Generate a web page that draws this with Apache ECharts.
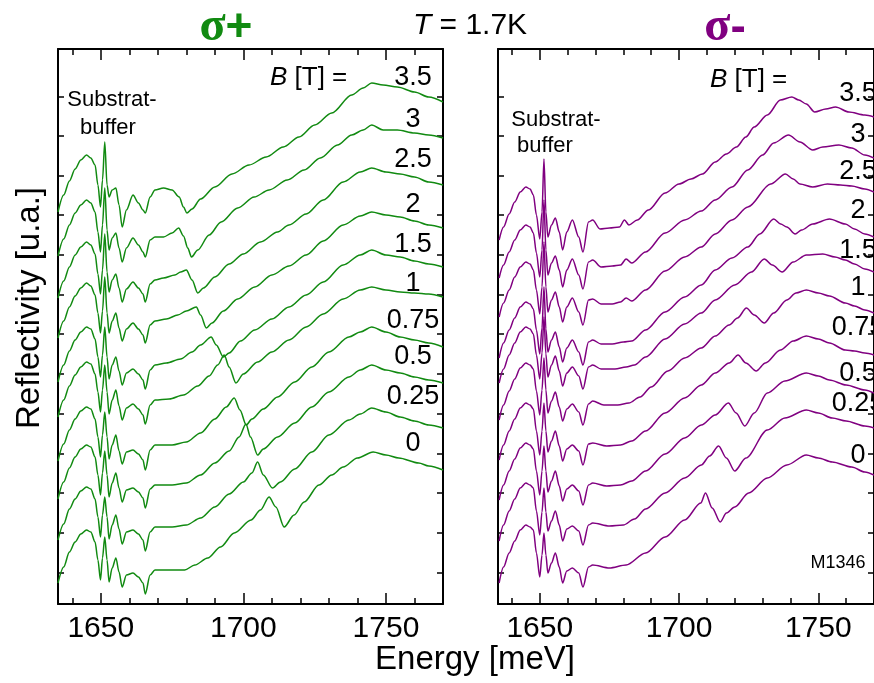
<!DOCTYPE html>
<html><head><meta charset="utf-8">
<script src="https://cdn.jsdelivr.net/npm/echarts@6/dist/echarts.min.js"></script>
<style>html,body{margin:0;padding:0;background:#fff}#c{width:874px;height:683px}</style>
</head><body><div id="c"></div>
<script>
// ---------- DATA ----------
const FIELDS_T = ['3.5','3','2.5','2','1.5','1','0.75','0.5','0.25','0'];
const X_TICKS_MAJOR = [1650, 1700, 1750];
const X_TICKS_MINOR = [1640,1650,1660,1670,1680,1690,1700,1710,1720,1730,1740,1750,1760,1770];
const Y_TICKS = [31,71,111,150,190,230,270,309,349,389,428,468,507];

// vertical offsets of the stacked spectra (a.u.)
const OFFSET_PLUS  = [449,404,362,321,277,242,197,159,117,74];
const OFFSET_MINUS = [417,379,342,302,277,241,201,161,121,79];

// substrate/buffer oscillation region, sigma+
const OSC_E_PLUS = [1635,1637,1639,1641,1643,1645,1646.5,1648,1649,1649.9,1650.6,1651.4,1652.2,1652.9,1654,1655.3,1656.4,1657.5,1659,1661.3,1663.2,1664.8,1665.6,1667.3];
const OSC_PLUS = [
 [-57,-40,-26,-14,-5,0,-3,-10,-30,-52,-25,13,-30,-42,-35,-33,-50,-72,-55,-40,-48,-55,-58,-42],
 [-56,-39,-25,-13,-5,0,-3,-12,-32,-52,-25,12,-30,-50,-38,-33,-48,-62,-48,-38,-45,-52,-57,-40],
 [-56,-39,-25,-13,-5,0,-3,-12,-32,-52,-28,8,-30,-50,-38,-32,-46,-60,-47,-40,-46,-52,-60,-42],
 [-55,-38,-24,-13,-5,0,-3,-12,-30,-50,-28,6,-30,-50,-38,-30,-45,-58,-46,-40,-46,-52,-60,-42],
 [-55,-38,-24,-13,-5,0,-2,-12,-30,-50,-28,0,-30,-52,-38,-30,-44,-58,-46,-42,-47,-53,-62,-43],
 [-55,-38,-24,-13,-5,0,-2,-12,-30,-50,-28,-3,-30,-52,-38,-28,-44,-58,-46,-42,-47,-53,-62,-43],
 [-54,-37,-23,-12,-4,0,-2,-12,-30,-50,-28,-5,-30,-52,-38,-28,-44,-57,-45,-43,-47,-53,-63,-43],
 [-54,-37,-23,-12,-4,0,-2,-12,-30,-50,-28,-6,-30,-52,-38,-28,-43,-57,-45,-43,-47,-53,-63,-44],
 [-53,-37,-22,-12,-4,0,-2,-12,-30,-50,-28,-10,-30,-52,-38,-28,-42,-57,-45,-43,-47,-53,-64,-45],
 [-53,-37,-22,-12,-4,0,-2,-12,-30,-50,-28,-7,-30,-52,-38,-28,-42,-57,-45,-43,-47,-53,-64,-45]
];
// exciton + broad band region, sigma+  [E, rel. reflectivity]
const REST_PLUS = [
 [[1669,-35],[1672,-33],[1675,-35],[1677.5,-42],[1679,-52],[1680.2,-58],[1682,-54],[1685,-44],[1690,-32],[1696,-19],[1702,-10],[1708,-2],[1714,8],[1719.5,18],[1725,30],[1731,42],[1738,60],[1742,67],[1745,72],[1749,70],[1754,68],[1760,63],[1765,58],[1770,53]],
 [[1669,-37],[1672,-37],[1675,-33],[1677.3,-28],[1679,-36],[1680.5,-48],[1681.8,-57],[1684,-50],[1688,-35],[1692.2,-22],[1698,-8],[1703.8,3],[1709,10],[1715.4,20],[1721.3,30],[1727,42],[1733,55],[1738,65],[1742,70],[1745,75],[1749,70],[1754,70],[1760,67],[1765,65],[1770,62]],
 [[1669,-38],[1672,-36],[1676,-33],[1678,-30],[1680,-28],[1682,-38],[1684,-51],[1686,-46],[1690,-35],[1695,-22],[1700,-12],[1706,0],[1712,10],[1716,17],[1722,28],[1728,42],[1735,60],[1741,70],[1745,74],[1750,70],[1755,68],[1760,65],[1765,60],[1770,57]],
 [[1669,-38],[1673,-36],[1677,-32],[1680,-28],[1683.5,-24],[1685,-32],[1687,-45],[1689,-40],[1693,-28],[1698,-16],[1704,-4],[1710,8],[1716,17],[1722,28],[1728,42],[1735,58],[1741,67],[1745,71],[1750,68],[1755,66],[1760,62],[1765,58],[1770,55]],
 [[1669,-38],[1673,-36],[1678,-32],[1682,-25],[1685,-18],[1688.7,-10],[1690.5,-18],[1693,-30],[1695,-26],[1699,-14],[1704,-3],[1710,8],[1716,20],[1722,32],[1728,45],[1735,62],[1741,72],[1745,77],[1750,72],[1755,70],[1760,66],[1765,63],[1770,60]],
 [[1669,-38],[1674,-37],[1679,-33],[1684,-24],[1688,-14],[1691,-3],[1693.3,7],[1695,-5],[1697.4,-21],[1700,-12],[1705,0],[1710,10],[1716,22],[1722,35],[1728,48],[1735,63],[1741,72],[1745,75],[1750,72],[1755,70],[1760,69],[1765,68],[1770,65]],
 [[1669,-38],[1675,-38],[1680,-35],[1685,-26],[1690,-12],[1694,0],[1696.8,9],[1698.8,-3],[1701,-18],[1703,-12],[1707,-2],[1712,10],[1718,25],[1724,40],[1730,55],[1737,70],[1741,75],[1745,80],[1750,75],[1755,70],[1760,67],[1765,64],[1770,60]],
 [[1669,-40],[1675,-40],[1680,-38],[1685,-30],[1690,-18],[1695,-6],[1698.5,8],[1700.9,21],[1702.5,8],[1705,-10],[1707,-4],[1712,8],[1718,22],[1724,38],[1730,53],[1737,68],[1741,75],[1745,80],[1750,75],[1755,72],[1760,68],[1765,65],[1770,62]],
 [[1669,-40],[1675,-40],[1680,-38],[1685,-31],[1690,-20],[1695,-7],[1700,5],[1703,14],[1705,25],[1707,12],[1710.2,-1],[1713,5],[1718,18],[1724,35],[1730,52],[1737,67],[1741,73],[1745,79],[1750,75],[1755,70],[1760,66],[1765,62],[1770,59]],
 [[1669,-40],[1675,-40],[1679.4,-40],[1683,-35],[1687.5,-28],[1692,-17],[1696.8,-3],[1702.7,10],[1706,20],[1709,33],[1711.4,23],[1714.3,3],[1717.8,15],[1721.3,28],[1726.5,45],[1731,55],[1735,63],[1740,72],[1745.5,78],[1750,75],[1754.5,72],[1761.5,67],[1765,64],[1770,60]]
];

// sigma-
const OSC_E_MINUS = [1635.4,1637,1639,1641,1643,1645,1646.5,1647.7,1648.8,1650,1650.8,1651.5,1652.2,1652.9,1654.2,1655.6,1657,1658.2,1659.7,1661.7,1664,1665.5,1667.5];
const OSC_MINUS = [
 [-53,-40,-27,-15,-5,0,-2,-8,-28,-52,-25,28,-25,-50,-38,-31,-45,-63,-45,-33,-50,-65,-35],
 [-53,-40,-27,-15,-5,0,-2,-8,-28,-52,-25,25,-25,-50,-38,-31,-45,-62,-45,-34,-50,-64,-37],
 [-55,-41,-28,-15,-5,0,-2,-8,-28,-52,-25,20,-25,-50,-38,-30,-45,-60,-45,-36,-50,-63,-38],
 [-56,-41,-28,-16,-5,0,-2,-7,-28,-52,-26,15,-27,-50,-38,-30,-45,-60,-46,-38,-50,-63,-40],
 [-56,-42,-28,-16,-5,0,-2,-7,-28,-52,-26,10,-27,-50,-38,-29,-44,-59,-46,-40,-49,-62,-40],
 [-57,-42,-28,-16,-5,0,-2,-6,-28,-52,-27,5,-27,-50,-38,-29,-44,-58,-46,-41,-49,-62,-41],
 [-57,-42,-28,-16,-5,0,-2,-6,-28,-52,-28,0,-28,-49,-38,-28,-43,-58,-46,-42,-48,-62,-41],
 [-57,-42,-28,-16,-5,0,-2,-6,-28,-52,-28,-3,-28,-49,-38,-28,-43,-58,-46,-42,-48,-62,-42],
 [-58,-42,-28,-16,-5,0,-2,-5,-28,-52,-29,-5,-29,-48,-38,-28,-42,-58,-46,-43,-48,-62,-42],
 [-58,-42,-28,-16,-5,0,-2,-5,-28,-52,-30,-8,-30,-48,-38,-28,-42,-58,-46,-43,-48,-62,-42]
];
const REST_MINUS = [
 [[1669,-33],[1671.6,-42],[1675,-41],[1678.6,-40],[1680.4,-33],[1682,-38],[1685,-33],[1689,-23],[1695,-6],[1700,3],[1704.3,8],[1708.4,13],[1713,25],[1717,33],[1720.6,40],[1724,50],[1727,60],[1731.7,72],[1736.4,87],[1740.5,90],[1743,87],[1745.7,83],[1748.7,75],[1752.7,78],[1756.2,80],[1761,75],[1766.7,72],[1770,70]],
 [[1669,-35],[1672,-42],[1676,-41],[1679,-40],[1681,-34],[1683,-38],[1688,-27],[1695,-8],[1702,5],[1708,14],[1713,25],[1719,38],[1724.7,55],[1730,70],[1734,82],[1739.3,90],[1743.4,83],[1748,75],[1751.6,78],[1757.4,80],[1762,77],[1766.7,70],[1770,67]],
 [[1669,-37],[1672,-42],[1676,-42],[1679,-40],[1681,-36],[1683,-39],[1688,-28],[1695,-9],[1702,5],[1708,15],[1713,28],[1719,42],[1724.7,55],[1732.9,78],[1738.2,88],[1741,83],[1743.4,78],[1748,75],[1753.3,78],[1758,77],[1762,76],[1766.7,73],[1770,70]],
 [[1669,-38],[1672,-42],[1676,-42],[1680,-40],[1683,-39],[1688,-28],[1695,-10],[1702,5],[1708,17],[1713,32],[1719,44],[1724.7,55],[1729,68],[1734,83],[1736.5,78],[1738.7,75],[1741.7,68],[1744,72],[1748,78],[1754,83],[1759.7,78],[1763,73],[1766.7,68],[1770,65]],
 [[1669,-38],[1672,-42],[1677,-42],[1681,-40],[1684,-38],[1688,-30],[1695,-12],[1702,3],[1708,14],[1713,27],[1720,42],[1726,55],[1730.6,68],[1733.5,62],[1737,55],[1741,65],[1745.7,72],[1751.6,73],[1756,70],[1759.7,67],[1763,63],[1766.7,58],[1770,55]],
 [[1669,-38],[1673,-42],[1678,-42],[1682,-40],[1686,-34],[1690,-24],[1696,-8],[1702,5],[1708,15],[1713,27],[1718,38],[1721,45],[1724.2,55],[1727,48],[1730.6,40],[1734,50],[1738.7,63],[1742,70],[1745.7,73],[1750,70],[1754,67],[1759.7,60],[1763,57],[1766.7,53],[1770,50]],
 [[1669,-40],[1674,-43],[1679,-42],[1683,-38],[1688,-28],[1695,-10],[1702,5],[1708,18],[1713,30],[1718,40],[1721.2,48],[1724,40],[1727.7,32],[1731,40],[1736.4,53],[1741,62],[1745.7,67],[1750,64],[1754,60],[1759.7,53],[1763,52],[1766.7,50],[1770,48]],
 [[1669,-40],[1674,-43],[1679,-42],[1683,-38],[1688,-28],[1695,-11],[1702,5],[1708,18],[1713,28],[1717.7,40],[1720.5,30],[1723.6,17],[1727,30],[1731.7,50],[1738,62],[1745.7,70],[1750,67],[1754,63],[1760,58],[1766.7,53],[1770,50]],
 [[1669,-40],[1675,-43],[1680,-42],[1684,-36],[1688,-26],[1695,-10],[1702,5],[1708,18],[1711,27],[1714.2,37],[1717,25],[1720,12],[1724,25],[1731.7,53],[1738,65],[1745.7,73],[1750,70],[1755,65],[1760,62],[1766.7,57],[1770,55]],
 [[1669,-40],[1675,-43],[1681,-40],[1688,-28],[1695,-12],[1702,5],[1707.8,22],[1709.5,32],[1711.9,17],[1714.8,3],[1717,12],[1720,18],[1725,32],[1731.7,47],[1738.7,60],[1745.7,70],[1750,67],[1755,63],[1762,58],[1766.7,53],[1770,50]]
];

// ---------- CHART ----------
const GREEN = '#118a11', PURPLE = '#800080';
const FONT = 'Liberation Sans, Arial, sans-serif';
const chart = echarts.init(document.getElementById('c'), null, {renderer: 'canvas'});

function buildSeries(oscE, osc, rest, offsets, xIdx, yIdx, color) {
  return FIELDS_T.map((b, i) => {
    const pts = oscE.map((e, k) => [e, offsets[i] + osc[i][k]])
      .concat(rest[i].map(p => [p[0], offsets[i] + p[1]]));
    return {
      type: 'line', name: b + ' T', xAxisIndex: xIdx, yAxisIndex: yIdx,
      data: pts, showSymbol: false, symbol: 'none', silent: true,
      smooth: 0.3, smoothMonotone: 'x',
      lineStyle: {color: color, width: 1.5}, animation: false
    };
  });
}

function xAxes(grid) {
  const base = {type: 'value', gridIndex: grid, min: 1635, max: 1770, splitLine: {show: false}};
  return [
    Object.assign({}, base, {position: 'bottom',
      axisLine: {show: true, lineStyle: {color: '#000', width: 2}},
      axisTick: {show: true, inside: true, length: 6, customValues: X_TICKS_MINOR, lineStyle: {color: '#000', width: 1.5}},
      axisLabel: {show: true, customValues: X_TICKS_MAJOR, fontSize: 30, fontFamily: FONT, color: '#000', margin: 10,
        formatter: v => String(v)}}),
    Object.assign({}, base, {position: 'bottom', axisLine: {show: false},
      axisTick: {show: true, inside: true, length: 11, customValues: X_TICKS_MAJOR, lineStyle: {color: '#000', width: 1.5}},
      axisLabel: {show: false}}),
    Object.assign({}, base, {position: 'top',
      axisLine: {show: true, lineStyle: {color: '#000', width: 2}},
      axisTick: {show: true, inside: true, length: 6, customValues: X_TICKS_MINOR, lineStyle: {color: '#000', width: 1.5}},
      axisLabel: {show: false}}),
    Object.assign({}, base, {position: 'top', axisLine: {show: false},
      axisTick: {show: true, inside: true, length: 11, customValues: X_TICKS_MAJOR, lineStyle: {color: '#000', width: 1.5}},
      axisLabel: {show: false}})
  ];
}
function yAxes(grid) {
  const base = {type: 'value', gridIndex: grid, min: 0, max: 555, splitLine: {show: false},
    axisLine: {show: true, lineStyle: {color: '#000', width: 2}},
    axisTick: {show: true, inside: true, length: 6, customValues: Y_TICKS, lineStyle: {color: '#000', width: 1.5}},
    axisLabel: {show: false}};
  return [Object.assign({}, base, {position: 'left'}), Object.assign({}, base, {position: 'right'})];
}

function txt(x, y, text, size) {
  return {type: 'text', silent: true, style: {x: x, y: y, text: text,
    font: size + 'px ' + FONT, fill: '#000', textAlign: 'center', textVerticalAlign: 'middle'}};
}

const graphics = [];
// curve labels
const LAB_Y_PLUS = [78,120,160,205,245,284,321,357,397,444];
const LAB_Y_MINUS = [94,135,172,211,251,288,328,374,404,456];
FIELDS_T.forEach((b, i) => {
  graphics.push(txt(413, LAB_Y_PLUS[i], b, 27));
  graphics.push(txt(858, LAB_Y_MINUS[i], b, 27));
});
graphics.push(
  {type: 'text', silent: true, style: {x: 226, y: 28, text: '{s|σ}{p|+}', textAlign: 'center', textVerticalAlign: 'middle',
    rich: {s: {fontFamily: 'Liberation Serif', fontSize: 48, fontWeight: 'bold', fill: GREEN}, p: {fontFamily: FONT, fontSize: 46, fontWeight: 'bold', fill: GREEN}}}},
  {type: 'text', silent: true, style: {x: 725, y: 28, text: '{s|σ}{p|-}', textAlign: 'center', textVerticalAlign: 'middle',
    rich: {s: {fontFamily: 'Liberation Serif', fontSize: 48, fontWeight: 'bold', fill: PURPLE}, p: {fontFamily: FONT, fontSize: 46, fontWeight: 'bold', fill: PURPLE}}}},
  {type: 'text', silent: true, style: {x: 470, y: 26, text: '{i|T} = 1.7K', textAlign: 'center', textVerticalAlign: 'middle',
    font: '30px ' + FONT, fill: '#000', rich: {i: {fontFamily: FONT, fontSize: 30, fontStyle: 'italic', fill: '#000'}}}},
  {type: 'text', silent: true, style: {x: 270, y: 78, text: '{i|B} [T] =', textAlign: 'left', textVerticalAlign: 'middle',
    font: '26px ' + FONT, fill: '#000', rich: {i: {fontFamily: FONT, fontSize: 26, fontStyle: 'italic', fill: '#000'}}}},
  {type: 'text', silent: true, style: {x: 710, y: 80, text: '{i|B} [T] =', textAlign: 'left', textVerticalAlign: 'middle',
    font: '26px ' + FONT, fill: '#000', rich: {i: {fontFamily: FONT, fontSize: 26, fontStyle: 'italic', fill: '#000'}}}},
  txt(112, 100, 'Substrat-', 22), txt(108, 128, 'buffer', 22),
  txt(556, 120, 'Substrat-', 22), txt(545, 146, 'buffer', 22),
  txt(838, 563, 'M1346', 18),
  txt(475, 660, 'Energy [meV]', 33),
  {type: 'text', silent: true, rotation: Math.PI / 2, x: 30, y: 308,
    style: {x: 0, y: 0, text: 'Reflectivity [u.a.]', font: '33px ' + FONT, fill: '#000', textAlign: 'center', textVerticalAlign: 'middle'}}
);

const option = {
  animation: false,
  backgroundColor: '#fff',
  grid: [
    {left: 58, top: 49, width: 385, height: 555},
    {left: 498, top: 49, width: 385, height: 555}
  ],
  xAxis: xAxes(0).concat(xAxes(1)),
  yAxis: yAxes(0).concat(yAxes(1)),
  series: buildSeries(OSC_E_PLUS, OSC_PLUS, REST_PLUS, OFFSET_PLUS, 0, 0, GREEN)
    .concat(buildSeries(OSC_E_MINUS, OSC_MINUS, REST_MINUS, OFFSET_MINUS, 4, 2, PURPLE)),
  graphic: graphics
};
chart.setOption(option);
</script></body></html>
